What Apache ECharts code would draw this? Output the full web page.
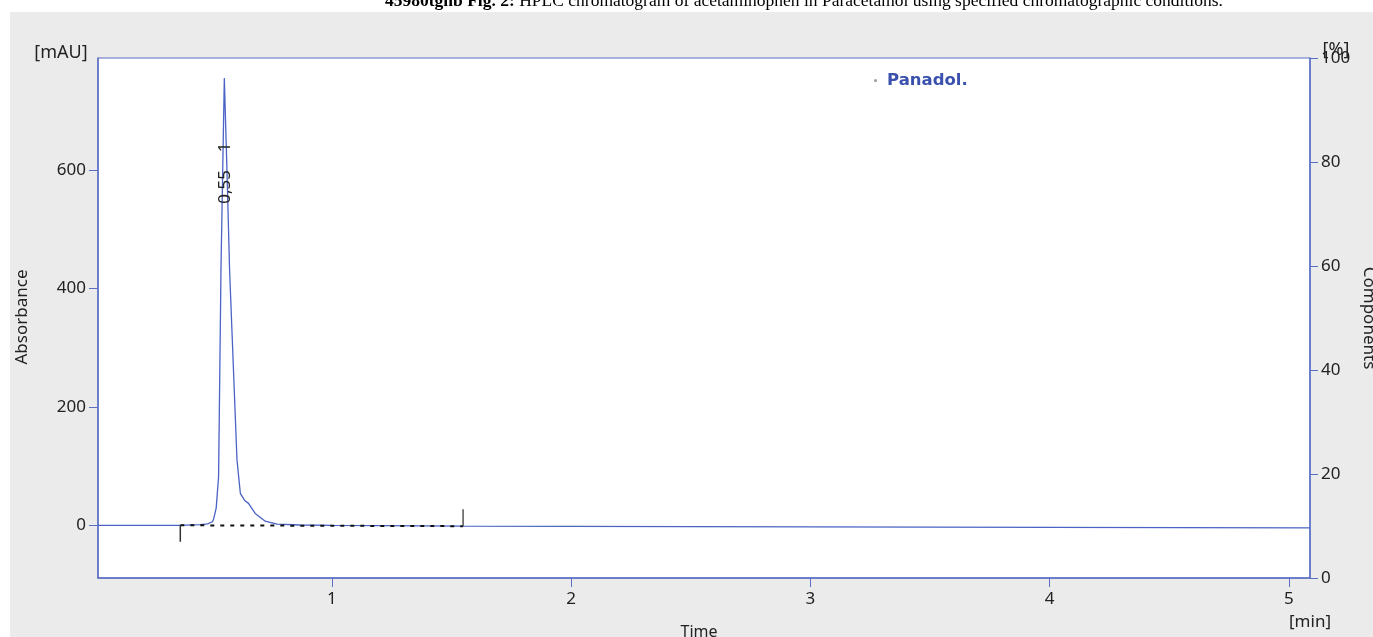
<!DOCTYPE html>
<html>
<head>
<meta charset="utf-8">
<title>HPLC chromatogram – Panadol.</title>
<script src="https://cdn.jsdelivr.net/npm/echarts@6/dist/echarts.min.js"></script>
<style>
  html, body { margin: 0; padding: 0; background: #ffffff; }
  #chart { width: 1373px; height: 637px; }
</style>
</head>
<body>
<div id="chart"></div>
<script>
// Detector trace: retention time [min] and absorbance [mAU]
const times = [
  0.022, 0.20, 0.36, 0.45, 0.48, 0.50, 0.505, 0.516, 0.526, 0.536, 0.55,
  0.561, 0.572, 0.603, 0.617, 0.635, 0.651, 0.679, 0.721, 0.770, 0.868,
  1.00, 1.20, 1.548, 2.00, 3.00, 4.00, 5.088
];
const absorbance = [
  0.0, 0.0, 0.0, 1.0, 2.5, 6.0, 10, 29, 82, 431, 755,
  600, 431, 110, 54, 42, 37, 20, 7, 2, 0.5,
  0.0, -0.5, -1.5, -2.0, -2.8, -3.6, -4.5
];

// Integration of peak 1: baseline end points and boundary markers
const baselineTimes = [0.366, 1.548];
const baselineValues = [0.0, -1.5];
const startMarkerValues = [0.0, -28];
const endMarkerValues = [27, -1.5];

// Peak annotation (retention time, peak number)
const peakTime = 0.55;
const peakNumber = 1;

// Axis ticks
const timeTicks = [1, 2, 3, 4, 5];
const absorbanceTicks = [0, 200, 400, 600];
const componentTicks = [0, 20, 40, 60, 80, 100];

const seriesName = 'Panadol.';
const titleBold = '45980tgnb Fig. 2:';
const titleText = ' HPLC chromatogram of acetaminophen in Paracetamol using specified chromatographic conditions.';

const AXIS = '#5a6ec4';
const TRACE = '#4a63c5';
const FONT = 'Noto Sans';

const signal = times.map((t, i) => [t, absorbance[i]]);
const peakHeight = Math.max.apply(null, absorbance);
const peakLabel = peakTime.toFixed(2).replace('.', ',') + '    ' + peakNumber;

const chart = echarts.init(document.getElementById('chart'), null, { renderer: 'canvas' });

chart.setOption({
  animation: false,
  backgroundColor: '#ffffff',
  textStyle: { fontFamily: FONT },
  graphic: [
    {
      type: 'rect', z: -100, silent: true,
      shape: { x: 10, y: 12, width: 1363, height: 625 },
      style: { fill: '#ebebeb' }
    },
    {
      type: 'text', z: 10, silent: true, x: 385, y: 1,
      style: {
        text: '{b|' + titleBold + '}' + titleText,
        font: '17.5px "Liberation Serif"',
        fill: '#000', verticalAlign: 'middle',
        rich: { b: { fontWeight: 'bold', fontSize: 17.5, fontFamily: 'Liberation Serif' } }
      }
    },
    {
      type: 'text', z: 10, silent: true, x: 61, y: 53,
      style: { text: '[mAU]', font: '18px "Noto Sans"', fill: '#222', align: 'center', verticalAlign: 'middle' }
    },
    {
      type: 'text', z: 10, silent: true, x: 22, y: 317, rotation: Math.PI / 2,
      style: { text: 'Absorbance', font: '17px "Noto Sans"', fill: '#222', align: 'center', verticalAlign: 'middle' }
    },
    {
      type: 'text', z: 10, silent: true, x: 1369, y: 318, rotation: -Math.PI / 2,
      style: { text: 'Components', font: '17px "Noto Sans"', fill: '#222', align: 'center', verticalAlign: 'middle' }
    },
    {
      type: 'text', z: 10, silent: true, x: 1336, y: 50,
      style: { text: '[%]', font: '18px "Noto Sans"', fill: '#222', align: 'center', verticalAlign: 'middle' }
    },
    {
      type: 'text', z: 10, silent: true, x: 699, y: 632,
      style: { text: 'Time', font: '16px "Noto Sans"', fill: '#222', align: 'center', verticalAlign: 'middle' }
    },
    {
      type: 'text', z: 10, silent: true, x: 1310, y: 622,
      style: { text: '[min]', font: '17px "Noto Sans"', fill: '#222', align: 'center', verticalAlign: 'middle' }
    }
  ],
  legend: {
    data: [seriesName],
    selectedMode: false,
    left: 869, top: 67,
    icon: 'circle', itemWidth: 3, itemHeight: 3,
    itemStyle: { color: '#9a9a9a' },
    textStyle: { fontFamily: 'DejaVu Sans', fontSize: 16.5, fontWeight: 'bold', color: '#3a52ad', padding: [0, 0, 0, 5] }
  },
  grid: {
    left: 98, right: 63, top: 58, bottom: 59,
    show: true, backgroundColor: '#ffffff', borderColor: AXIS, borderWidth: 1,
    containLabel: false
  },
  xAxis: {
    type: 'value', min: 0.022, max: 5.088,
    axisLine: { show: true, onZero: false, lineStyle: { color: AXIS, width: 1.5 } },
    axisTick: { show: true, length: 9, customValues: timeTicks, lineStyle: { color: AXIS } },
    axisLabel: { customValues: timeTicks, margin: 13, color: '#222', fontSize: 17, fontFamily: FONT },
    splitLine: { show: false }
  },
  yAxis: [
    {
      type: 'value', min: -89, max: 789, position: 'left',
      axisLine: { show: true, onZero: false, lineStyle: { color: AXIS, width: 1.5 } },
      axisTick: { show: true, length: 9, customValues: absorbanceTicks, lineStyle: { color: AXIS } },
      axisLabel: { customValues: absorbanceTicks, margin: 12, color: '#222', fontSize: 17, fontFamily: FONT },
      splitLine: { show: false }
    },
    {
      type: 'value', min: 0, max: 100, position: 'right',
      axisLine: { show: true, onZero: false, lineStyle: { color: AXIS, width: 1.5 } },
      axisTick: { show: true, length: 8, customValues: componentTicks, lineStyle: { color: AXIS } },
      axisLabel: { customValues: componentTicks, margin: 11, color: '#222', fontSize: 17, fontFamily: FONT },
      splitLine: { show: false }
    }
  ],
  series: [
    {
      name: seriesName, type: 'line', yAxisIndex: 0, z: 3,
      data: signal, symbol: 'none', smooth: false,
      lineStyle: { color: TRACE, width: 1.3 },
      itemStyle: { color: TRACE },
      markPoint: {
        symbol: 'circle', symbolSize: 0, silent: true,
        data: [{ coord: [peakTime, peakHeight] }],
        label: {
          show: true, formatter: peakLabel, rotate: 90,
          position: 'inside', offset: [-95, 1],
          color: '#222', fontSize: 17, fontFamily: FONT
        }
      }
    },
    {
      name: 'baseline', type: 'line', yAxisIndex: 0, z: 4, silent: true,
      data: baselineTimes.map((t, i) => [t, baselineValues[i]]),
      symbol: 'none',
      lineStyle: { color: '#111', width: 2, type: [4, 6] }
    },
    {
      name: 'peak start', type: 'line', yAxisIndex: 0, z: 4, silent: true,
      data: startMarkerValues.map(v => [baselineTimes[0], v]),
      symbol: 'none',
      lineStyle: { color: '#333', width: 1.5 }
    },
    {
      name: 'peak end', type: 'line', yAxisIndex: 0, z: 4, silent: true,
      data: endMarkerValues.map(v => [baselineTimes[1], v]),
      symbol: 'none',
      lineStyle: { color: '#555', width: 1.5 }
    }
  ]
});
</script>
</body>
</html>
